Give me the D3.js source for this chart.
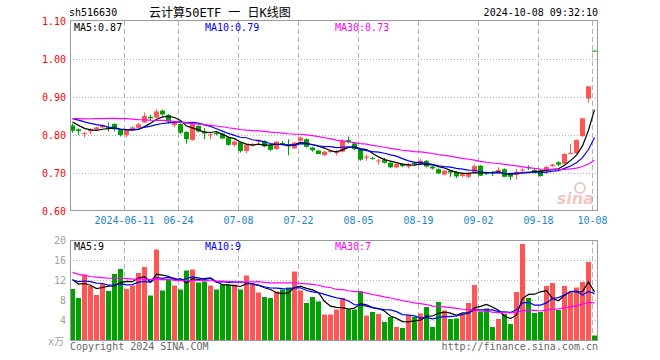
<!DOCTYPE html>
<html><head><meta charset="utf-8">
<script src="https://cdn.jsdelivr.net/npm/d3@7/dist/d3.min.js"></script>
<style>body{margin:0;background:#fff}svg{display:block}text{font-family:"DejaVu Sans Mono",monospace;font-size:10px}</style>
</head><body><svg id="c" width="660" height="360"></svg>
<script>
// ---- data ----
const dates = [
 "2024-05-28","2024-05-29","2024-05-30","2024-05-31",
 "2024-06-03","2024-06-04","2024-06-05","2024-06-06","2024-06-07","2024-06-11","2024-06-12","2024-06-13","2024-06-14",
 "2024-06-17","2024-06-18","2024-06-19","2024-06-20","2024-06-21","2024-06-24","2024-06-25","2024-06-26","2024-06-27","2024-06-28",
 "2024-07-01","2024-07-02","2024-07-03","2024-07-04","2024-07-05","2024-07-08","2024-07-09","2024-07-10","2024-07-11","2024-07-12",
 "2024-07-15","2024-07-16","2024-07-17","2024-07-18","2024-07-19","2024-07-22","2024-07-23","2024-07-24","2024-07-25","2024-07-26",
 "2024-07-29","2024-07-30","2024-07-31","2024-08-01","2024-08-02","2024-08-05","2024-08-06","2024-08-07","2024-08-08","2024-08-09",
 "2024-08-12","2024-08-13","2024-08-14","2024-08-15","2024-08-16","2024-08-19","2024-08-20","2024-08-21","2024-08-22","2024-08-23",
 "2024-08-26","2024-08-27","2024-08-28","2024-08-29","2024-08-30","2024-09-02","2024-09-03","2024-09-04","2024-09-05","2024-09-06",
 "2024-09-09","2024-09-10","2024-09-11","2024-09-12","2024-09-13","2024-09-18","2024-09-19","2024-09-20","2024-09-23","2024-09-24",
 "2024-09-25","2024-09-26","2024-09-27","2024-09-30","2024-10-08"];
const open = [.825,.815,.803,.810,.815,.820,.821,.829,.813,.800,
 .815,.819,.833,.848,.846,.864,.853,.826,.829,.808,
 .787,.824,.809,.800,.806,.804,.794,.774,.781,.758,
 .772,.783,.784,.774,.763,.779,.775,.765,.785,.789,
 .767,.759,.747,.756,.753,.756,.787,.778,.761,.740,
 .740,.731,.734,.727,.715,.724,.717,.727,.723,.732,
 .717,.710,.696,.706,.703,.692,.690,.703,.719,.701,
 .701,.703,.710,.699,.695,.707,.715,.708,.708,.710,
 .718,.728,.724,.752,.752,.797,.896,1.022];
const high = [.830,.817,.808,.818,.822,.828,.833,.831,.815,.813,
 .823,.832,.859,.853,.868,.867,.855,.837,.831,.810,
 .830,.826,.818,.807,.808,.806,.796,.785,.783,.776,
 .779,.789,.786,.776,.784,.784,.789,.782,.796,.791,
 .769,.761,.758,.762,.760,.789,.796,.780,.763,.748,
 .743,.737,.740,.729,.725,.726,.726,.730,.737,.734,
 .719,.712,.708,.708,.705,.702,.702,.723,.721,.703,
 .705,.715,.712,.701,.711,.712,.720,.711,.710,.719,
 .724,.731,.752,.776,.788,.844,.929,1.022];
const low = [.806,.800,.794,.802,.812,.818,.809,.809,.796,.794,
 .813,.818,.831,.837,.844,.851,.831,.820,.803,.777,
 .785,.807,.789,.789,.799,.789,.772,.769,.754,.752,
 .770,.775,.768,.758,.761,.774,.747,.763,.783,.767,
 .756,.749,.745,.753,.746,.754,.778,.760,.732,.732,
 .735,.722,.725,.713,.713,.715,.712,.720,.721,.715,
 .709,.697,.694,.690,.686,.688,.686,.700,.692,.695,
 .692,.699,.689,.682,.683,.702,.708,.702,.690,.697,
 .716,.718,.722,.749,.750,.795,.885,1.021];
const close = [.811,.810,.805,.815,.820,.826,.817,.815,.800,.812,
 .820,.828,.850,.844,.862,.854,.835,.835,.806,.789,
 .829,.809,.804,.802,.802,.791,.774,.783,.758,.775,
 .776,.787,.770,.761,.782,.777,.770,.780,.793,.769,
 .760,.750,.756,.758,.755,.786,.781,.763,.735,.743,
 .738,.733,.727,.715,.724,.718,.724,.723,.732,.717,
 .712,.699,.706,.701,.691,.697,.699,.718,.693,.697,
 .700,.708,.690,.690,.703,.709,.713,.704,.692,.716,
 .722,.722,.750,.753,.787,.844,.928,1.021];
const volume = [10.2,8.4,13.1,10.8,9.0,11.2,9.8,13.2,14.2,10.2,
 10.9,13.4,14.6,8.9,18.1,9.9,12.3,10.9,10.1,13.9,
 14.1,11.5,11.7,10.9,10.1,11.1,11.1,11.1,10.1,12.9,
 11.1,9.5,8.6,8.4,9.7,10.1,10.5,13.7,9.9,7.4,
 8.6,7.7,5.1,5.1,6.1,8.4,6.1,6.1,9.7,4.9,
 5.6,5.2,3.6,4.6,2.6,2.4,4.9,4.6,5.3,6.6,
 2.6,7.6,5.9,4.2,4.3,5.2,7.4,11.0,5.7,6.3,
 2.6,4.2,5.2,3.2,9.6,19.2,8.4,5.4,5.6,10.8,
 11.4,6.0,10.8,9.5,10.5,11.6,15.6,0.9];
// closes / volumes of the 29 sessions before the visible window (needed for the moving averages)
const prevClose = [.815,.812,.810,.814,.816,.811,.813,.815,.812,
 .860,.865,.870,.872,.868,.866,.870,.865,.868,.869,.870,
 .848,.852,.855,.852,.851,.855,.845,.835,.826];
const prevVolume = [20,19,18,13,14,13.5,13,14,13,13.5,14,13,13,14,13.5,13,13.5,13,14,13.6,
 11.5,12,12,12,12,13,12.5,12.5,12.3];
const priceTicks = [0.60,0.70,0.80,0.90,1.00,1.10];
const volumeTicks = [4,8,12,16,20];
const dateTicks = ["2024-06-11","2024-06-24","2024-07-08","2024-07-22","2024-08-05","2024-08-19","2024-09-02","2024-09-18","2024-10-08"];
const maPeriods = [5,10,30];
const maColors = ["#000000","#0000ff","#ff00ff"];

// ---- drawing ----
const svg = d3.select("#c");
const L = 70, R = 598;
const UP = "#ff5555", DOWN = "#00a000", GRID = "#b4b4b4", BORDER = "#9a9a9a";
const x = d3.scaleBand().domain(dates).range([L, R]);
const yP = d3.scaleLinear().domain([0.6, 1.1]).range([211, 21]);
const yV = d3.scaleLinear().domain([0, 20]).range([340, 240]);
const N = dates.length;
const bw = 5;

function ma(series, prev, n) {
  const all = prev.concat(series);
  return series.map((_, i) => d3.mean(all.slice(prev.length + i - n + 1, prev.length + i + 1)));
}
const priceMA = maPeriods.map(n => ma(close, prevClose, n));
const volMA = maPeriods.map(n => ma(volume, prevVolume, n));

// header
svg.append("text").attr("x", 69).attr("y", 16).text("sh516630");
svg.append("text").attr("x", 149).attr("y", 17)
  .style("font-family", '"DejaVu Sans Mono","Noto Sans CJK SC",monospace').style("font-size", "12px")
  .text("云计算50ETF 一 日K线图");
svg.append("text").attr("x", R).attr("y", 16).attr("text-anchor", "end").text("2024-10-08 09:32:10");

// watermark
const wm = svg.append("g").attr("fill", "#f3c6c6");
wm.append("text").attr("x", 594).attr("y", 204).attr("text-anchor", "end")
  .style("font-family", "DejaVu Sans").style("font-size", "16px").style("font-style", "italic").style("font-weight", "bold")
  .text("sina");
wm.append("circle").attr("cx", 580).attr("cy", 188).attr("r", 5).attr("fill", "none").attr("stroke", "#f3c6c6").attr("stroke-width", 2);

// grids
[[21, 211], [240, 340]].forEach(([a, b]) => {
  svg.append("g").selectAll("line").data(dateTicks).join("line")
    .attr("x1", d => x(d) + 0.5).attr("x2", d => x(d) + 0.5).attr("y1", a).attr("y2", b)
    .attr("stroke", GRID).attr("stroke-dasharray", "5,3");
});
svg.append("g").selectAll("line").data(priceTicks.slice(1, -1)).join("line")
  .attr("x1", L).attr("x2", R).attr("y1", d => Math.round(yP(d)) + 0.5).attr("y2", d => Math.round(yP(d)) + 0.5)
  .attr("stroke", GRID).attr("stroke-dasharray", "1,2");
svg.append("g").selectAll("line").data(volumeTicks.slice(0, -1)).join("line")
  .attr("x1", L).attr("x2", R).attr("y1", d => Math.round(yV(d)) + 0.5).attr("y2", d => Math.round(yV(d)) + 0.5)
  .attr("stroke", GRID).attr("stroke-dasharray", "1,2");

// candles
const cg = svg.append("g");
dates.forEach((d, i) => {
  const col = close[i] >= open[i] ? UP : DOWN;
  const cx = x(d) + 2.5;
  cg.append("line").attr("x1", cx).attr("x2", cx).attr("y1", yP(high[i])).attr("y2", yP(low[i]))
    .attr("stroke", col).attr("stroke-width", 1);
  const top = yP(Math.max(open[i], close[i])), bot = yP(Math.min(open[i], close[i]));
  cg.append("rect").attr("x", x(d)).attr("width", bw).attr("y", top).attr("height", Math.max(1, bot - top)).attr("fill", col);
});
// volume bars
svg.append("g").selectAll("rect").data(dates).join("rect")
  .attr("x", d => x(d)).attr("width", bw)
  .attr("y", (d, i) => yV(volume[i])).attr("height", (d, i) => yV(0) - yV(volume[i]))
  .attr("fill", (d, i) => close[i] >= open[i] ? UP : DOWN);

// MA lines
priceMA.forEach((s, k) => {
  svg.append("path").datum(s).attr("fill", "none").attr("stroke", maColors[k]).attr("stroke-width", 1.2)
    .attr("d", d3.line().x((v, i) => x(dates[i]) + 2.5).y(v => yP(v)));
});
volMA.forEach((s, k) => {
  svg.append("path").datum(s).attr("fill", "none").attr("stroke", maColors[k]).attr("stroke-width", 1.2)
    .attr("d", d3.line().x((v, i) => x(dates[i]) + 2.5).y(v => yV(v)));
});

// borders
svg.append("rect").attr("x", L + 0.5).attr("y", 20.5).attr("width", R - L - 1).attr("height", 190)
  .attr("fill", "none").attr("stroke", BORDER);
svg.append("rect").attr("x", L + 0.5).attr("y", 240.5).attr("width", R - L - 1).attr("height", 100)
  .attr("fill", "none").attr("stroke", BORDER);

// axes labels
const ax1 = svg.append("g").attr("transform", `translate(${L},0)`)
  .call(d3.axisLeft(yP).tickValues(priceTicks).tickFormat(d3.format(".2f")).tickSize(0).tickPadding(4));
ax1.select(".domain").remove();
ax1.selectAll("text").attr("fill", "#ff0000").style("font-family", '"DejaVu Sans Mono"').style("font-size", "10px");
const ax2 = svg.append("g").attr("transform", `translate(${L},0)`)
  .call(d3.axisLeft(yV).tickValues(volumeTicks).tickFormat(d3.format("d")).tickSize(0).tickPadding(4));
ax2.select(".domain").remove();
ax2.selectAll("text").attr("fill", "#a0a0a0").style("font-family", '"DejaVu Sans Mono"').style("font-size", "10px");
svg.append("text").attr("x", 64).attr("y", 345).attr("text-anchor", "end").attr("fill", "#a0a0a0")
  .style("font-family", '"DejaVu Sans Mono","Noto Sans CJK SC"').text("x万");

svg.append("g").selectAll("text").data(dateTicks).join("text")
  .attr("x", d => x(d) + 0.5).attr("y", 224).attr("text-anchor", "middle").attr("fill", "#1a86d0")
  .text((d, i) => i === 0 ? d : d.slice(5));

// legends
const fmtP = d3.format(".2f");
const lx = [74, 205, 335];
maPeriods.forEach((n, k) => {
  svg.append("text").attr("x", lx[k]).attr("y", 31).attr("fill", maColors[k])
    .text(`MA${n}:${fmtP(priceMA[k][N - 1])}`);
  svg.append("text").attr("x", lx[k]).attr("y", 250).attr("fill", maColors[k])
    .text(`MA${n}:${Math.floor(volMA[k][N - 1])}`);
});

// footer
svg.append("text").attr("x", L).attr("y", 350).attr("fill", "#666").text("Copyright 2024 SINA.COM");
svg.append("text").attr("x", R).attr("y", 350).attr("text-anchor", "end").attr("fill", "#666").text("http://finance.sina.com.cn");
</script></body></html>
